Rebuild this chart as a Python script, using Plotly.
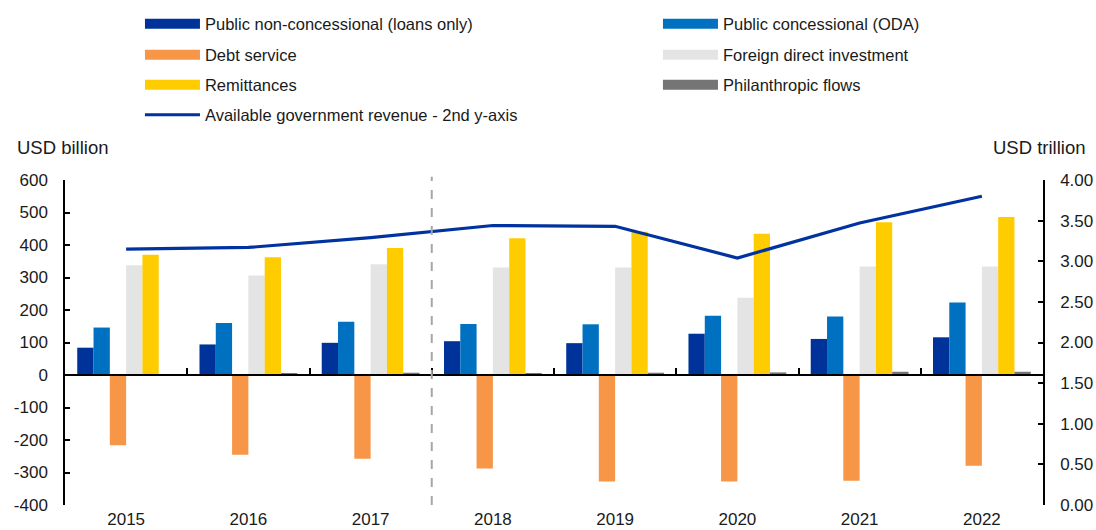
import plotly.graph_objects as go

years = ["2015", "2016", "2017", "2018", "2019", "2020", "2021", "2022"]
non_concessional = [84, 94, 99, 104, 98, 127, 111, 116]
oda = [146, 160, 164, 157, 156, 182, 180, 223]
debt_service = [-216, -245, -258, -288, -328, -328, -325, -279]
fdi = [338, 306, 341, 331, 331, 238, 334, 334]
remittances = [370, 362, 391, 421, 441, 435, 470, 486]
philanthropic = [3, 5, 7, 5, 7, 8, 10, 10]
gov_revenue = [3.15, 3.17, 3.29, 3.44, 3.43, 3.04, 3.47, 3.80]

left_ticks = [-400, -300, -200, -100, 0, 100, 200, 300, 400, 500, 600]
left_tick_labels = [str(v) for v in left_ticks]

names = ["Public non-concessional (loans only)", "Public concessional (ODA)", "Debt service",
         "Foreign direct investment", "Remittances", "Philanthropic flows"]
colors = ["#00339A", "#0070C0", "#F79646", "#E4E4E4", "#FFCC00", "#757575"]
series = [non_concessional, oda, debt_service, fdi, remittances, philanthropic]
legend_ids = ["legend", "legend", "legend2", "legend2", "legend3", "legend3"]
line_name = "Available government revenue - 2nd y-axis"
line_color = "#0033A0"

FONT = "Liberation Sans, Arial, sans-serif"
COL1_W = 448   # legend entry width so that column 2 starts 518 px to the right
COL2_W = 300

fig = go.Figure()
for i, (n, c, s, lg) in enumerate(zip(names, colors, series, legend_ids)):
    fig.add_trace(go.Bar(x=years, y=s, name=n, marker=dict(color=c, line=dict(width=0)),
                         legendgroup=n, showlegend=False))
    # legend proxy with a wide swatch
    fig.add_trace(go.Scatter(x=[None], y=[None], mode="lines", name=n, legendgroup=n,
                             legend=lg, legendwidth=COL1_W if i % 2 == 0 else COL2_W,
                             line=dict(color=c, width=12)))

fig.add_trace(go.Scatter(x=years, y=gov_revenue, name=line_name, mode="lines",
                         line=dict(color=line_color, width=3.2), yaxis="y2",
                         legend="legend4", legendwidth=COL1_W))
# helper trace for the zero-line category axis
fig.add_trace(go.Scatter(x=years, y=[0] * len(years), mode="lines", line=dict(width=0),
                         xaxis="x2", yaxis="y", showlegend=False, hoverinfo="skip", opacity=0))

legend_common = dict(orientation="h", x=0.1277, xref="container", yref="container",
                     xanchor="left", yanchor="middle",
                     itemwidth=55, font=dict(size=16.5, color="#1a1a1a"),
                     bgcolor="rgba(0,0,0,0)", traceorder="normal")

fig.update_layout(
    width=1096, height=530,
    margin=dict(l=65, r=53, t=180, b=25, autoexpand=False),
    paper_bgcolor="white", plot_bgcolor="white",
    font=dict(family=FONT, size=17, color="#1a1a1a"),
    barmode="group", bargap=0.2, bargroupgap=0,
    xaxis=dict(type="category", categoryarray=years, range=[-0.5, 7.5], showline=False,
               ticks="", showgrid=False, zeroline=False, tickfont=dict(size=17),
               ticklabelstandoff=2),
    xaxis2=dict(type="category", categoryarray=years, range=[-0.5, 7.5], overlaying="x",
                anchor="free", position=0.4, showline=True, linecolor="black", linewidth=1.5,
                ticks="inside", tickson="boundaries", ticklen=6, tickcolor="black", tickwidth=1.5,
                showticklabels=False, showgrid=False, zeroline=False),
    yaxis=dict(range=[-400, 600], tickvals=left_ticks, ticktext=left_tick_labels,
               showline=True, linecolor="black", linewidth=1.5,
               ticks="inside", ticklen=5, tickcolor="black", tickwidth=1.5, showgrid=False,
               zeroline=False, tickfont=dict(size=17), ticklabelstandoff=12),
    yaxis2=dict(range=[0, 4], dtick=0.5, tickformat=".2f", overlaying="y", side="right",
                showline=True, linecolor="black", linewidth=1.5, ticks="inside", ticklen=5,
                tickcolor="black", tickwidth=1.5, showgrid=False, zeroline=False,
                tickfont=dict(size=17), ticklabelstandoff=12),
    legend=dict(y=0.9547, **legend_common),
    legend2=dict(y=0.8962, **legend_common),
    legend3=dict(y=0.8396, **legend_common),
    legend4=dict(y=0.7830, **legend_common),
    shapes=[dict(type="line", xref="x", yref="paper", x0=2.5, x1=2.5, y0=0, y1=1.01,
                 line=dict(color="#A6A6A6", width=2, dash="dash"))],
    annotations=[
        dict(text="USD billion", xref="paper", yref="paper", x=-0.0511, y=1.1015,
             xanchor="left", yanchor="middle", showarrow=False, font=dict(size=18.5)),
        dict(text="USD trillion", xref="paper", yref="paper", x=1.046, y=1.1015,
             xanchor="right", yanchor="middle", showarrow=False, font=dict(size=18.5)),
    ],
)

fig.write_html("out.html", config={"displayModeBar": False},
               post_script="document.body.style.margin='0';document.body.style.overflow='hidden';")
